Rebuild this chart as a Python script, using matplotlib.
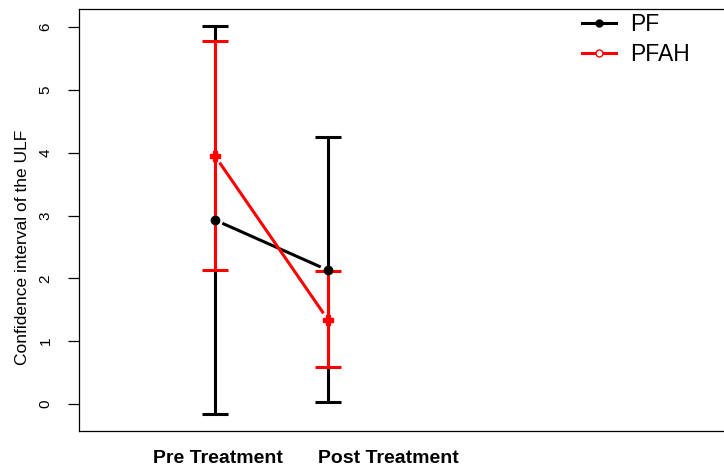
import numpy as np
import matplotlib.pyplot as plt

plt.rcParams['font.family'] = ['Liberation Sans', 'DejaVu Sans']

# Data
groups = ["Pre Treatment", "Post Treatment"]
pf_mean = [2.93, 2.13]
pf_low = [-0.16, 0.03]
pf_high = [6.02, 4.25]
pfah_mean = [3.95, 1.34]
pfah_low = [2.13, 0.59]
pfah_high = [5.78, 2.12]


def gapped_line(ax, x, y, color, gap_px=8):
    # R type="b": segments stop short of the points
    pts = ax.transData.transform(np.column_stack([x, y]))
    for i in range(len(pts) - 1):
        p0, p1 = pts[i], pts[i + 1]
        d = p1 - p0
        u = d / np.hypot(*d)
        a = ax.transData.inverted().transform(p0 + u * gap_px)
        b = ax.transData.inverted().transform(p1 - u * gap_px)
        ax.plot([a[0], b[0]], [a[1], b[1]], color=color, lw=2.2,
                solid_capstyle='butt', zorder=3)


fig = plt.figure(figsize=(7.24, 4.65), dpi=100)
W, H = 724, 465
left, right, top, bottom = 79, 760, 9, 431
ax = fig.add_axes([left / W, 1 - bottom / H, (right - left) / W, (bottom - top) / H])

x = np.arange(1, len(groups) + 1)
ax.set_xlim(1 - 136 / 113, 1 + (right - 215) / 113)
ax.set_ylim(-0.43, 6.29)

# error bars
ax.errorbar(x, pf_mean, yerr=[np.subtract(pf_mean, pf_low), np.subtract(pf_high, pf_mean)],
            fmt='none', ecolor='black', elinewidth=2.2, capsize=9.5, capthick=2.2, zorder=2)
ax.errorbar(x, pfah_mean, yerr=[np.subtract(pfah_mean, pfah_low), np.subtract(pfah_high, pfah_mean)],
            fmt='none', ecolor='red', elinewidth=2.2, capsize=9.5, capthick=2.2, zorder=2)

ax.plot(x, pf_mean, 'o', color='black', ms=6, zorder=4)
ax.plot(x, pfah_mean, 'P', color='red', ms=7, zorder=4)

fig.canvas.draw()
gapped_line(ax, x, pf_mean, 'black')
gapped_line(ax, x, pfah_mean, 'red')

# axes styling, R-like
for s in ['top', 'left', 'bottom']:
    ax.spines[s].set_linewidth(0.9)
ax.set_yticks(range(0, 7))
ax.tick_params(axis='y', length=8, width=0.9, labelsize=11, pad=11)
for lab in ax.get_yticklabels():
    lab.set_rotation(90)
    lab.set_va('center')
ax.set_ylabel("Confidence interval of the ULF", fontsize=12.5)
ax.yaxis.set_label_coords(-0.072, 0.436)

ax.set_xticks([])
label_x = [1.03, 2.53]
for lx, g in zip(label_x, groups):
    ax.text(lx, -0.064, g, transform=ax.get_xaxis_transform(), ha='center', va='center',
            fontsize=14, fontweight='bold')

# legend
leg_handles = [
    plt.Line2D([], [], color='black', lw=2.2, marker='o', ms=5),
    plt.Line2D([], [], color='red', lw=2.2, marker='o', ms=5, mfc='white'),
]
ax.legend(leg_handles, ["PF", "PFAH"], loc='upper left', bbox_to_anchor=(582 / W, 1 - 13 / H),
          bbox_transform=fig.transFigure, frameon=False, fontsize=16.5, handlelength=1.5,
          handletextpad=0.6, labelspacing=0.3, borderaxespad=0, borderpad=0)

fig.savefig("out.png", dpi=100)
